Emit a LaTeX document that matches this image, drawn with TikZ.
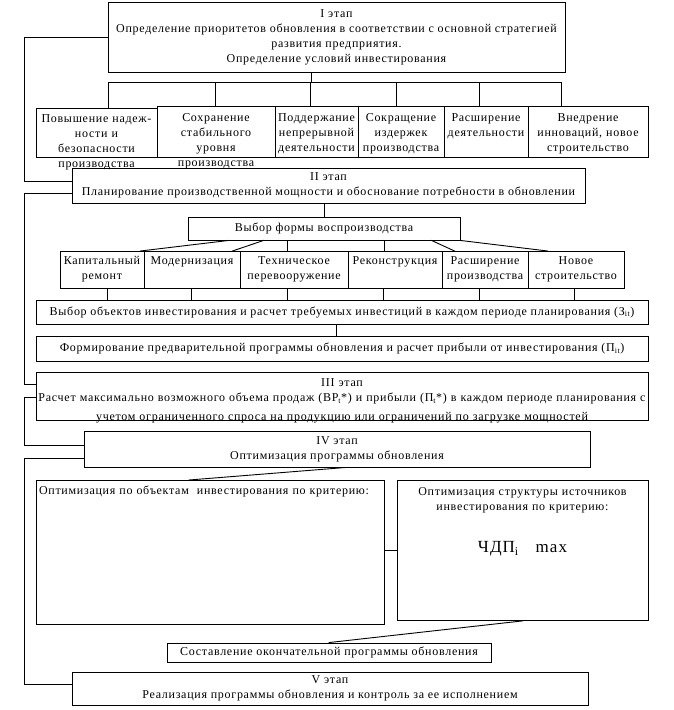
\documentclass[tikz,border=0pt]{standalone}
\usepackage{fontspec}
\setmainfont{Liberation Serif}[LetterSpace=6]
\usetikzlibrary{calc,positioning}

\newcommand{\stagefont}{\fontsize{12}{15}\selectfont}
\newcommand{\bigfont}{\fontsize{17}{17}\selectfont}
\tikzset{
  box/.style={draw,inner sep=0pt,align=center,font=\stagefont},
  topbox/.style n args={3}{box,anchor=north,text width=#1pt,text height=#2pt,text depth=#3pt},
  sz/.style 2 args={minimum width=#1pt,minimum height=#2pt}
}

\begin{document}
\begin{tikzpicture}[x=1pt,y=-1pt,line width=0.9pt,line cap=rect]
  \useasboundingbox (0,0) rectangle (673,710);

  % Stage I and its six aims.
  \node[box,sz={457}{70}] (s1) at (336.5,37)
    {I этап\\Определение приоритетов обновления в соответствии с основной стратегией\\развития предприятия.\\Определение условий инвестирования};
  \node[topbox={121}{14}{35}] (b1) at (96.5,108)
    {Повышение надеж-\\ности и\\безопасности\\производства};
  \node[topbox={118}{15}{36}] (b2) at (216,106)
    {Сохранение\\стабильного\\уровня\\производства};
  \node[topbox={83}{15}{36}] (b3) at (316.5,106)
    {Поддержание\\непрерывной\\деятельности};
  \node[topbox={86}{15}{36}] (b4) at (401,106)
    {Сокращение\\издержек\\производства};
  \node[topbox={84}{15}{36}] (b5) at (486,106)
    {Расширение\\деятельности};
  \node[topbox={120}{15}{36}] (b6) at (588,106)
    {Внедрение\\инноваций, новое\\строительство};

  \path (s1.south) ++(-25.5,10) coordinate (bus);
  \foreach \b/\dx in {b1/73,b2/59,b3/36,b4/39,b5/36,b6/34}{
    \path (\b.north west) ++(\dx,0) coordinate (t\b);
    \draw (t\b |- bus) -- (t\b);
  }
  \draw (s1.south -| bus) -- (bus);
  \draw (tb1 |- bus) -- (tb6 |- bus);

  % Stage II and the forms of reproduction.
  \node[box,sz={513}{35}] (s2) at (328.5,185.5)
    {II этап\\Планирование производственной мощности и обоснование потребности в обновлении};
  \node[box,sz={272}{23}] (vf) at (324,228.5) {Выбор формы воспроизводства};
  \draw (vf.north |- s2.south) -- (vf.north);

  \node[topbox={84}{13}{24}] (k1) at (102,251) {Капитальный\\ремонт};
  \node[topbox={96}{13}{24}] (k2) at (192,251) {Модернизация};
  \node[topbox={108}{13}{24}] (k3) at (294,251) {Техническое\\перевооружение};
  \node[topbox={94}{13}{24}] (k4) at (395,251) {Реконструкция};
  \node[topbox={86}{13}{24}] (k5) at (485,251) {Расширение\\производства};
  \node[topbox={96}{13}{24}] (k6) at (576,251) {Новое\\строительство};

  \draw ($(vf.south west)+(41,0)$) -- ([xshift=-4pt]k1.north east);
  \draw ($(vf.south west)+(76,0)$) -- ([xshift=-8pt]k2.north east);
  \draw ($(vf.south west)+(100,0)$) -- ($(k3.north west)+(48,0)$);
  \draw ($(vf.south west)+(197,0)$) -- ($(k4.north west)+(37,0)$);
  \draw ($(vf.south west)+(244,0)$) -- ($(k5.north west)+(13,0)$);
  \draw (vf.south east) -- ($(k6.north west)+(20,0)$);

  \node[box,sz={612}{24}] (vo) at (342,312)
    {Выбор объектов инвестирования и расчет требуемых инвестиций в каждом периоде планирования (З\textsubscript{it})};
  \foreach \k/\dx in {1/72,2/156,3/252,4/348,5/444,6/539}{
    \path (vo.north west) ++(\dx,0) coordinate (d\k);
    \draw (d\k |- k\k.south) -- (d\k);
  }
  \node[box,sz={612}{25}] (vp) at (342,348.5)
    {Формирование предварительной программы обновления и расчет прибыли от инвестирования (П\textsubscript{it})};
  \draw ([xshift=-6pt]vo.south) -- ([xshift=-6pt]vp.north);

  % Stage III and stage IV.
  \node[topbox={612}{14}{34}] (s3) at (342,372)
    {III этап\\Расчет максимально возможного объема продаж (ВР\textsubscript{t}*) и прибыли (П\textsubscript{t}*) в каждом периоде планирования с\\[4pt]учетом ограниченного спроса на продукцию или ограничений по загрузке мощностей};
  \node[box,sz={506}{36}] (s4) at (337,449)
    {IV этап\\Оптимизация программы обновления};

  \node[topbox={348}{14}{130},align=left] (ol) at (210,480)
    {\hspace*{3pt}Оптимизация по объектам\ \ инвестирования по критерию:};
  \node[topbox={251}{15}{125}] (or) at (522.5,480)
    {Оптимизация структуры источников\\инвестирования по критерию:\\[27pt]{\bigfont ЧДП\textsubscript{i}\quad max}};
  \draw ([xshift=9pt]s4.south) -- ([xshift=-21pt]ol.north);
  \draw (or.west -| ol.east) -- (or.west);

  \node[box,sz={324}{19}] (fin) at (329,652.5) {Составление окончательной программы обновления};
  \draw (or.south) -- (fin.north);

  % Stage V.
  \node[box,sz={516}{33}] (s5) at (330,688.5)
    {V этап\\Реализация программы обновления и контроль за ее исполнением};

  % Feedback rail on the left joining the stages.
  \coordinate (rail) at (24,0);
  \draw (s1.west) -- (s1.west -| rail) |- ([yshift=4.5pt]s2.west);
  \draw ([yshift=-7.5pt]s2.west) -- ([yshift=-7.5pt]s2.west -| rail) |- ([yshift=12pt]s3.west);
  \draw ([yshift=-1pt]s3.west) -- ([yshift=-1pt]s3.west -| rail) |- ([yshift=4pt]s4.west);
  \draw ([yshift=-9pt]s4.west) -- ([yshift=-9pt]s4.west -| rail) |- ([yshift=4.5pt]s5.west);
\end{tikzpicture}
\end{document}
